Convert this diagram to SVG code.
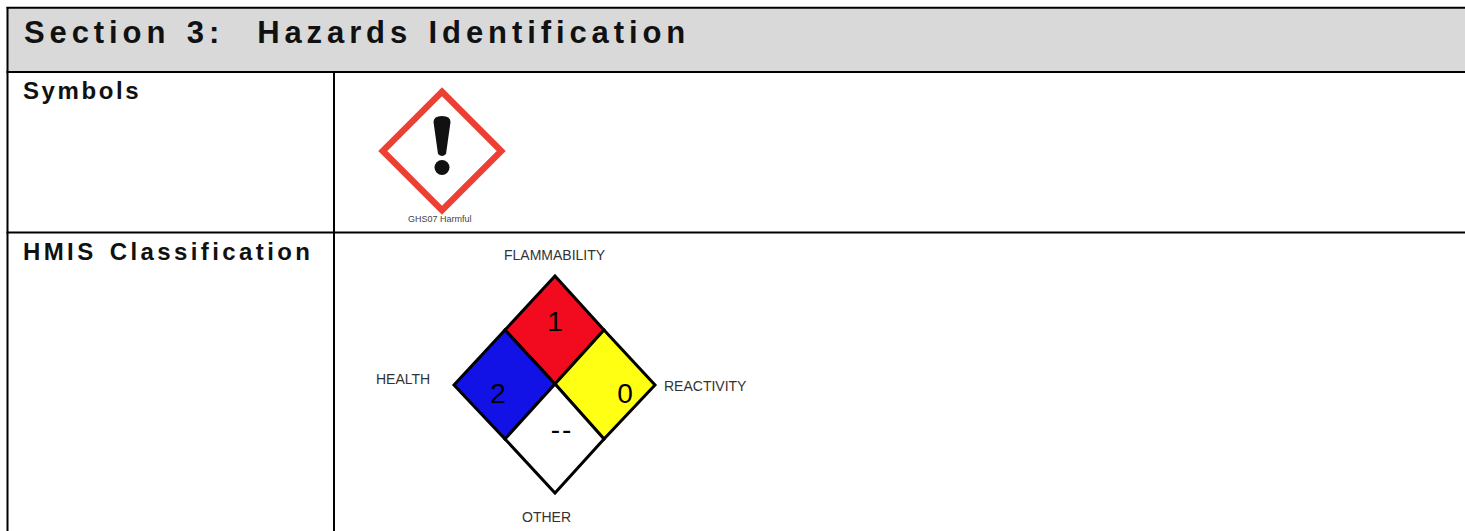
<svg xmlns="http://www.w3.org/2000/svg" width="1465" height="531" viewBox="0 0 1465 531">
<style>
.rule{stroke:#000;stroke-width:2;fill:none}
.hdr{font-family:"Liberation Sans",Arial,sans-serif;font-weight:bold;fill:#111;white-space:pre}
.lbl{font-family:"Liberation Sans",Arial,sans-serif;font-size:14px;fill:#333}
.num{font-family:"Liberation Sans",Arial,sans-serif;font-size:28px;fill:#000;text-anchor:middle}
.cell{stroke:#000;stroke-width:3;stroke-linejoin:miter}
</style>
<rect width="1465" height="531" fill="#fff"/>
<g id="table">
<rect x="7.5" y="7.7" width="1460" height="64.3" fill="#d9d9d9"/>
<line class="rule" x1="6.5" y1="7.7" x2="1465" y2="7.7"/>
<line class="rule" x1="6.5" y1="72" x2="1465" y2="72"/>
<line class="rule" x1="6.5" y1="232.5" x2="1465" y2="232.5"/>
<line class="rule" x1="7.5" y1="7" x2="7.5" y2="531"/>
<line class="rule" x1="334" y1="72" x2="334" y2="531"/>
</g>
<g id="title">
<text class="hdr" x="24" y="43" font-size="31" letter-spacing="4.9" word-spacing="3" xml:space="preserve">Section 3:  Hazards Identification</text>
</g>
<g id="row-symbols">
<text class="hdr" x="23" y="99" font-size="24" letter-spacing="2.6">Symbols</text>
</g>
<g id="row-hmis">
<text class="hdr" x="23" y="260" font-size="24" letter-spacing="3.4" word-spacing="3">HMIS Classification</text>
</g>
<g id="ghs07">
<polygon points="442,91.8 501.2,151 442,210.2 382.8,151" fill="#fff" stroke="#ec4034" stroke-width="6.4" stroke-linejoin="miter"/>
<path d="M433.5,122 Q433.5,116 442,116 Q450.5,116 450.5,122 L446,154 Q442,158 438,154 Z" fill="#111"/>
<circle cx="442" cy="167.5" r="7.5" fill="#111"/>
<text x="408" y="222" font-family="Liberation Sans,Arial,sans-serif" font-size="9" fill="#444">GHS07 Harmful</text>
</g>
<g id="hmis-diamond">
<polygon class="cell" points="555,276 604,330 555,384 505,330" fill="#f20a1e"/>
<polygon class="cell" points="505,330 555,384 505,439 454,385" fill="#1212e6"/>
<polygon class="cell" points="604,330 655,385 604,439 555,384" fill="#ffff14"/>
<polygon class="cell" points="555,384 604,439 555,493 505,439" fill="#fff"/>
<text class="num" x="555" y="331">1</text>
<text class="num" x="498" y="403">2</text>
<text class="num" x="625" y="403">0</text>
<text class="num" x="562" y="439" font-size="22" letter-spacing="2">--</text>
<text class="lbl" x="504" y="260">FLAMMABILITY</text>
<text class="lbl" x="376" y="384">HEALTH</text>
<text class="lbl" x="664" y="391">REACTIVITY</text>
<text class="lbl" x="522" y="522">OTHER</text>
</g>
</svg>
